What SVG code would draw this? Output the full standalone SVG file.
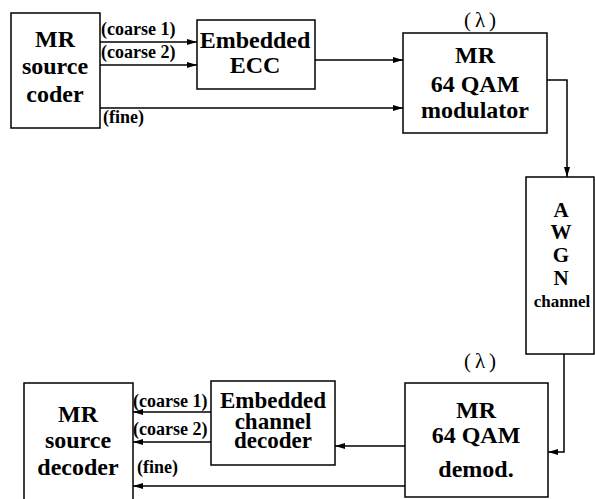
<svg xmlns="http://www.w3.org/2000/svg" width="595" height="499" viewBox="0 0 595 499">
<defs>
<marker id="ah" viewBox="0 0 10 6" refX="10" refY="3" markerWidth="10" markerHeight="6" markerUnits="userSpaceOnUse" orient="auto">
<path d="M0,0 L10,3 L0,6 Z" fill="#000"/>
</marker>
<style>
.box{fill:#fff;stroke:#000;stroke-width:1.5}
.t{font-family:'Liberation Serif',serif;font-weight:700;font-size:24px;text-anchor:middle;fill:#000}
.s{font-family:'Liberation Serif',serif;font-weight:700;font-size:18px;fill:#000}
.l{font-family:'Liberation Serif',serif;font-size:21px;letter-spacing:4px;text-anchor:middle;fill:#000}
.c{fill:none;stroke:#000;stroke-width:1.5}
</style>
</defs>
<rect width="595" height="499" fill="#fff"/>
<g id="connectors">
<line class="c" x1="100" y1="42" x2="197" y2="42" marker-end="url(#ah)"/>
<line class="c" x1="100" y1="65" x2="197" y2="65" marker-end="url(#ah)"/>
<line class="c" x1="100" y1="108" x2="403" y2="108" marker-end="url(#ah)"/>
<line class="c" x1="315" y1="60" x2="403" y2="60" marker-end="url(#ah)"/>
<polyline class="c" points="547,80 567,80 567,177" marker-end="url(#ah)"/>
<polyline class="c" points="564,354 564,452 548,452" marker-end="url(#ah)"/>
<line class="c" x1="405" y1="446" x2="335" y2="446" marker-end="url(#ah)"/>
<line class="c" x1="211" y1="412" x2="133" y2="412" marker-end="url(#ah)"/>
<line class="c" x1="211" y1="442" x2="133" y2="442" marker-end="url(#ah)"/>
<line class="c" x1="405" y1="486" x2="133" y2="486" marker-end="url(#ah)"/>
<text class="s" x="101" y="35">(coarse 1)</text>
<text class="s" x="101" y="58">(coarse 2)</text>
<text class="s" x="103" y="123">(fine)</text>
<text class="s" x="133" y="407">(coarse 1)</text>
<text class="s" x="133" y="435">(coarse 2)</text>
<text class="s" x="137" y="473">(fine)</text>
</g>
<g id="source-coder">
<rect class="box" x="11" y="13" width="89" height="115"/>
<text class="t" x="55" y="47">MR</text>
<text class="t" x="55" y="74">source</text>
<text class="t" x="55" y="102">coder</text>
</g>
<g id="embedded-ecc">
<rect class="box" x="197" y="20" width="118" height="69"/>
<text class="t" x="255" y="48">Embedded</text>
<text class="t" x="255" y="73">ECC</text>
</g>
<g id="modulator">
<text class="l" x="482" y="27">(λ)</text>
<rect class="box" x="403" y="33" width="144" height="100"/>
<text class="t" x="475" y="63">MR</text>
<text class="t" x="475" y="92">64 QAM</text>
<text class="t" x="475" y="118">modulator</text>
</g>
<g id="awgn">
<rect class="box" x="526" y="177" width="68" height="177"/>
<text class="t" x="561" y="217" style="font-size:21px">A</text>
<text class="t" x="561" y="239" style="font-size:21px">W</text>
<text class="t" x="561" y="262" style="font-size:21px">G</text>
<text class="t" x="561" y="285" style="font-size:21px">N</text>
<text class="t" x="562" y="307" style="font-size:17px">channel</text>
</g>
<g id="demodulator">
<text class="l" x="482" y="368">(λ)</text>
<rect class="box" x="405" y="383" width="143" height="114"/>
<text class="t" x="476" y="418">MR</text>
<text class="t" x="476" y="443">64 QAM</text>
<text class="t" x="476" y="477">demod.</text>
</g>
<g id="channel-decoder">
<rect class="box" x="211" y="381" width="124" height="84"/>
<text class="t" x="273" y="408" style="font-size:23px">Embedded</text>
<text class="t" x="273" y="429" style="font-size:23px">channel</text>
<text class="t" x="273" y="448" style="font-size:23px">decoder</text>
</g>
<g id="source-decoder">
<rect class="box" x="24" y="383" width="109" height="120"/>
<text class="t" x="78" y="422">MR</text>
<text class="t" x="78" y="448">source</text>
<text class="t" x="78" y="475">decoder</text>
</g>
</svg>
